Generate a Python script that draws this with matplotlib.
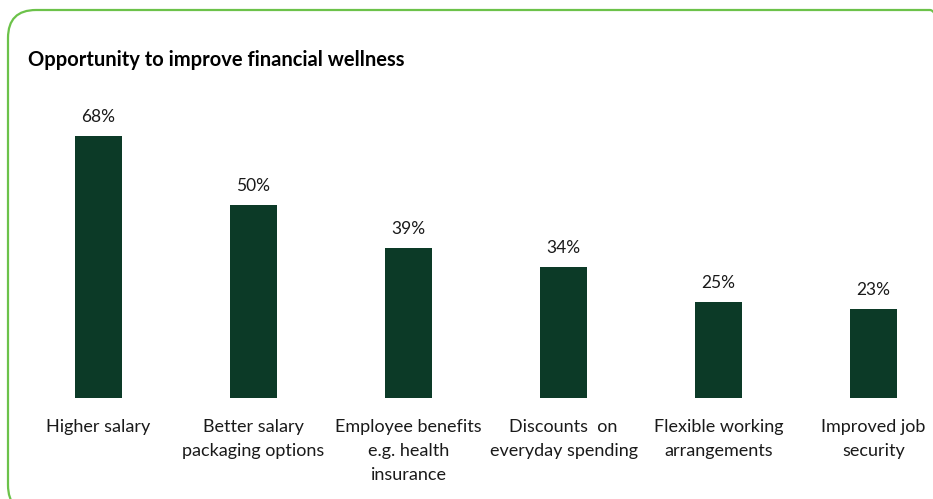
import matplotlib.pyplot as plt
from matplotlib.patches import FancyBboxPatch

# Données
categories = ["Higher salary", "Better salary\npackaging options", "Employee benefits\ne.g. health\ninsurance",
              "Discounts  on\neveryday spending", "Flexible working\narrangements", "Improved job\nsecurity"]
values = [68, 50, 39, 34, 25, 23]
value_labels = ["68%", "50%", "39%", "34%", "25%", "23%"]

plt.rcParams['font.family'] = ['Lato', 'DejaVu Sans']

fig = plt.figure(figsize=(9.33, 4.99), dpi=100)
ax = fig.add_axes([0, 0, 1, 1])

# Échelle : 155 px entre barres, 3.853 px par point de pourcentage
step = 155.0
ppu = 3.853
x = list(range(len(values)))
ax.set_xlim(-98.5 / step, (933 - 98.5) / step)
ax.set_ylim(-101 / ppu, 398 / ppu)
ax.axis('off')

ax.bar(x, values, width=47 / step, color='#0c3a27')

for xi, v, lab in zip(x, values, value_labels):
    ax.text(xi, v + 19 / ppu, lab, ha='center', va='center', fontsize=12.5, color='#1a1a1a')

for xi, cat in zip(x, categories):
    ax.text(xi, -21 / ppu, cat, ha='center', va='top', fontsize=13,
            color='#1a1a1a', linespacing=1.62)

# Titre
fig.text(28 / 933, 1 - 60 / 499, "Opportunity to improve financial wellness",
         ha='left', va='center', fontsize=14.5, fontweight='bold', color='#000000')

# Cadre arrondi vert
border = FancyBboxPatch((8, -14), 950, 503, boxstyle="round,pad=0,rounding_size=28",
                        transform=None, fill=False, edgecolor='#6cc24a', linewidth=1.6)
fig.patches.append(border)

fig.savefig('out.png', dpi=100)
